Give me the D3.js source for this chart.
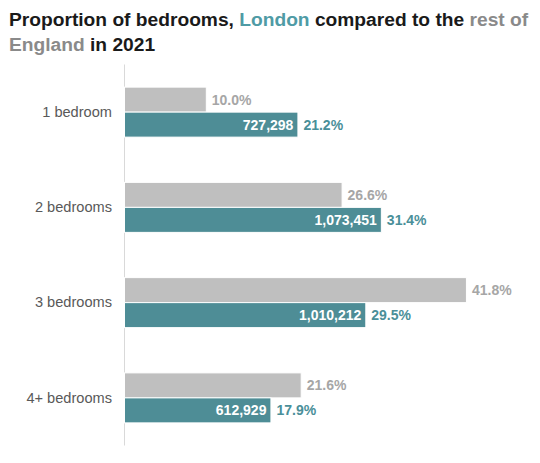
<!DOCTYPE html>
<html>
<head>
<meta charset="utf-8">
<script src="https://cdn.jsdelivr.net/npm/d3@7"></script>
<style>
  html, body { margin: 0; padding: 0; background: #fff; }
  svg { display: block; font-family: "Liberation Sans", Arial, sans-serif; }
</style>
</head>
<body>
<svg id="chart" width="540" height="463"></svg>
<script>
const categories = ["1 bedroom", "2 bedrooms", "3 bedrooms", "4+ bedrooms"];
const seriesNames = ["Rest of England", "London"];
const restOfEngland = [10.0, 26.6, 41.8, 21.6];
const london = [21.2, 31.4, 29.5, 17.9];
const londonCounts = [727298, 1073451, 1010212, 612929];

const colors = { "Rest of England": "#bfbfbf", "London": "#4e8d96" };
const labelColors = { "Rest of England": "#a6a6a6", "London": "#4a8f99" };

const svg = d3.select("#chart");
const margin = { left: 124 };

// title
const title = svg.append("text").attr("x", 9).attr("font-size", 19.2).attr("font-weight", "bold").attr("fill", "#1a1a1a");
const l1 = title.append("tspan").attr("x", 9).attr("y", 26);
l1.append("tspan").text("Proportion of bedrooms, ");
l1.append("tspan").attr("fill", "#4f9ba5").text("London");
l1.append("tspan").text(" compared to the ");
l1.append("tspan").attr("fill", "#8a8a8a").text("rest of");
const l2 = title.append("tspan").attr("x", 9).attr("y", 51);
l2.append("tspan").attr("fill", "#8a8a8a").text("England");
l2.append("tspan").text(" in 2021");

const x = d3.scaleLinear().domain([0, 50]).range([margin.left, margin.left + 409]);
const y = d3.scaleBand().domain(categories).range([64.5, 445.5]).paddingInner(0.475).paddingOuter(0.2375);
const ySub = d3.scaleBand().domain(seriesNames).range([0, y.bandwidth()]);

// axis line
svg.append("line")
  .attr("x1", margin.left + 0.5).attr("x2", margin.left + 0.5)
  .attr("y1", 64.5).attr("y2", 445.5)
  .attr("stroke", "#d9d9d9").attr("stroke-width", 1);

// category labels
const yAxis = d3.axisLeft(y).tickSize(0).tickPadding(12);
const ga = svg.append("g").attr("transform", `translate(${margin.left},0)`).call(yAxis);
ga.select(".domain").remove();
ga.selectAll("text").attr("font-size", 14.6).attr("fill", "#595959")
  .attr("font-family", "Liberation Sans, Arial, sans-serif");

const rows = categories.map((c, i) => ({
  cat: c,
  vals: [
    { s: "Rest of England", v: restOfEngland[i] },
    { s: "London", v: london[i], n: londonCounts[i] }
  ]
}));

const g = svg.selectAll("g.grp").data(rows).join("g")
  .attr("class", "grp")
  .attr("transform", d => `translate(0,${y(d.cat)})`);

g.selectAll("rect").data(d => d.vals).join("rect")
  .attr("x", x(0) + 0.5)
  .attr("y", d => ySub(d.s))
  .attr("width", d => x(d.v) - x(0))
  .attr("height", ySub.bandwidth())
  .attr("fill", d => colors[d.s])
  .attr("stroke", "#ffffff").attr("stroke-width", 1);

g.selectAll("text.pct").data(d => d.vals).join("text")
  .attr("class", "pct")
  .attr("x", d => x(d.v) + 6)
  .attr("y", d => ySub(d.s) + ySub.bandwidth() / 2)
  .attr("dy", "0.36em")
  .attr("font-size", 14).attr("font-weight", "bold")
  .attr("fill", d => labelColors[d.s])
  .text(d => d.v.toFixed(1) + "%");

g.selectAll("text.cnt").data(d => d.vals.filter(v => v.n != null)).join("text")
  .attr("class", "cnt")
  .attr("x", d => x(d.v) - 4)
  .attr("y", d => ySub(d.s) + ySub.bandwidth() / 2)
  .attr("dy", "0.36em")
  .attr("text-anchor", "end")
  .attr("font-size", 14).attr("font-weight", "bold")
  .attr("fill", "#ffffff")
  .text(d => d3.format(",")(d.n));
</script>
</body>
</html>
